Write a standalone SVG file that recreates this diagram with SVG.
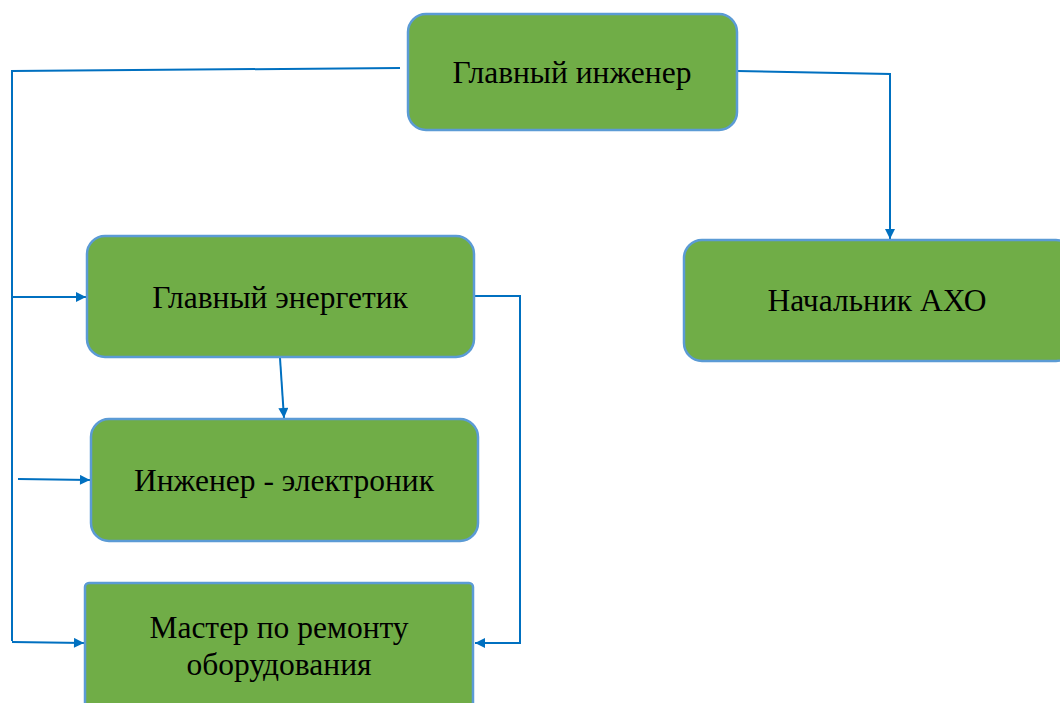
<svg xmlns="http://www.w3.org/2000/svg" width="1060" height="703" viewBox="0 0 1060 703">
<defs>
<style>
.box{fill:#70AD47;stroke:#5B9BD5;stroke-width:2.5}
.lbl{font-family:"Liberation Serif","Times New Roman",serif;font-size:31.5px;fill:#000;text-anchor:middle}
.cn{fill:none;stroke:#0070C0;stroke-width:2}
</style>
<marker id="ah" viewBox="0 0 10 10" refX="10" refY="5" markerWidth="6" markerHeight="5" orient="auto" markerUnits="strokeWidth">
<path d="M0,0 L10,5 L0,10 z" fill="#0070C0"/>
</marker>
</defs>
<rect width="1060" height="703" fill="#fff"/>
<g id="connectors">
<path class="cn" d="M400,68 L12,71 L12,641"/>
<path class="cn" d="M12,297 L86,297" marker-end="url(#ah)"/>
<path class="cn" d="M18,479 L90,480" marker-end="url(#ah)"/>
<path class="cn" d="M12,642 L84,643" marker-end="url(#ah)"/>
<path class="cn" d="M737,71 L890,74 L890,239" marker-end="url(#ah)"/>
<path class="cn" d="M280,358 L284,418" marker-end="url(#ah)"/>
<path class="cn" d="M474,296 L520,296 L520,643 L475,643" marker-end="url(#ah)"/>
</g>
<g id="node-chief-engineer">
<rect class="box" x="408" y="14" width="329" height="116" rx="18"/>
<text class="lbl" x="572" y="83">Главный инженер</text>
</g>
<g id="node-chief-power">
<rect class="box" x="87" y="236" width="387" height="121" rx="18"/>
<text class="lbl" x="280" y="308">Главный энергетик</text>
</g>
<g id="node-electronics">
<rect class="box" x="91" y="419" width="387" height="122" rx="18"/>
<text class="lbl" x="284" y="491">Инженер - электроник</text>
</g>
<g id="node-master">
<rect class="box" x="85" y="583" width="388" height="140" rx="4"/>
<text class="lbl" x="279" y="638">Мастер по ремонту</text>
<text class="lbl" x="279" y="675">оборудования</text>
</g>
<g id="node-aho">
<rect class="box" x="684" y="240" width="390" height="121" rx="18"/>
<text class="lbl" x="877" y="311">Начальник АХО</text>
</g>
</svg>
